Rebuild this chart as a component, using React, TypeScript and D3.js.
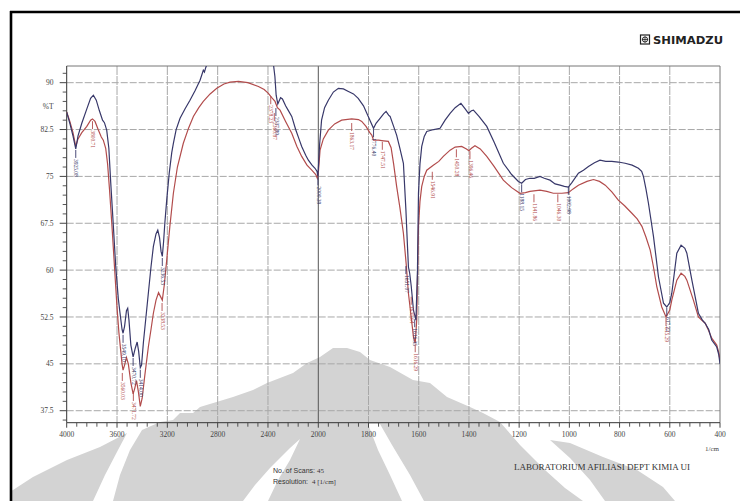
import React from "react";
import * as d3 from "d3";

// ---------- data ----------
const blueWn = [4000,3975,3950,3928,3910,3880,3840,3810,3788,3765,3740,3715,3700,3682,3665,3650,3629,3610,3590,3576,3560,3552,3540,3525,3515,3505,3490,3472,3455,3440,3428,3415,3405,3390,3370,3351,3330,3311,3290,3276,3262,3250,3240,3230,3220,3205,3185,3165,3152,3130,3099,3060,3020,2980,2940,2925,2914,2905,2895,2880,2850,2700,2500,2400,2360,2345,2335,2322,2300,2285,2260,2240,2211,2180,2150,2132,2100,2079,2050,2026,2010,2003,1995,1987,1975,1960,1940,1920,1900,1880,1860,1841,1820,1801,1790,1780,1770,1754,1740,1730,1720,1714,1700,1688,1675,1661,1651,1645,1641,1636,1630,1621,1611,1605,1601,1595,1588,1578,1568,1540,1515,1495,1475,1455,1432,1415,1402,1390,1382,1360,1329,1300,1263,1230,1203,1190,1175,1157,1140,1117,1100,1077,1057,1037,1020,1004,990,964,944,924,900,878,855,831,805,778,750,725,712,705,695,685,665,645,625,612,600,592,572,555,540,532,512,486,470,459,445,433,413,405,400];
const blueT = [85.3,83.5,81.5,79.4,81.5,83.5,85.8,87.5,88.0,87.2,85.5,84.0,83.6,82.4,79.5,74.0,67.0,60.5,55.5,53.1,50.5,49.9,51.0,53.5,53.9,52.0,48.0,46.1,47.5,48.5,47.0,44.4,44.8,48.5,52.5,56.3,60.5,63.8,65.8,66.4,65.2,63.0,62.2,64.5,67.5,71.2,75.5,78.8,80.3,82.5,84.3,85.8,87.2,88.7,90.4,91.3,92.0,91.7,92.4,93.2,95.0,97.0,96.0,95.0,93.5,91.0,88.0,86.6,87.6,87.4,86.3,85.6,84.6,82.5,80.8,79.8,78.4,77.6,76.8,76.3,75.8,75.0,80.0,84.0,86.0,87.2,88.5,89.1,89.0,88.6,88.2,87.5,86.3,84.6,83.6,82.7,83.5,84.3,85.0,85.4,84.8,84.6,83.0,81.6,79.5,77.1,69.6,64.0,60.5,59.5,57.5,53.6,52.0,60.0,72.3,77.0,79.8,81.4,82.2,82.5,82.7,84.0,85.1,86.0,86.7,85.8,85.1,85.5,85.6,84.6,83.0,80.5,77.1,75.3,74.2,73.9,74.5,74.7,74.7,75.0,74.7,74.4,73.8,73.6,73.4,73.3,74.0,75.5,76.0,76.6,77.2,77.6,77.4,77.4,77.3,77.1,76.8,76.3,75.8,75.0,73.0,70.7,65.4,58.9,54.7,54.1,54.8,56.3,62.7,64.0,63.5,62.7,58.4,53.1,52.0,51.5,50.5,48.8,47.7,46.5,45.0];

const redWn = [4000,3975,3950,3928,3910,3880,3840,3810,3795,3775,3750,3725,3709,3690,3675,3660,3640,3620,3600,3585,3570,3560,3552,3540,3525,3510,3490,3472,3460,3445,3430,3415,3400,3380,3351,3330,3311,3290,3270,3255,3240,3225,3205,3180,3152,3120,3073,3030,2993,2950,2914,2860,2807,2750,2701,2635,2560,2476,2430,2397,2370,2344,2325,2304,2260,2211,2170,2132,2090,2052,2020,2008,2000,1993,1980,1960,1935,1907,1867,1840,1827,1810,1795,1787,1780,1760,1740,1721,1710,1700,1688,1675,1661,1650,1641,1630,1621,1614,1608,1601,1595,1588,1578,1568,1542,1520,1502,1475,1455,1429,1410,1400,1390,1376,1355,1329,1300,1263,1230,1197,1175,1157,1117,1090,1064,1030,1004,985,964,930,904,880,857,830,805,780,751,730,711,695,678,665,652,632,615,600,592,572,555,540,532,506,486,470,459,445,433,413,405,400];
const redT = [85.3,83.8,82.0,79.8,81.0,82.0,83.0,84.0,84.2,83.8,82.5,81.3,80.8,79.5,77.0,73.0,67.0,60.5,54.0,50.0,47.0,45.0,44.0,44.8,46.0,45.0,42.0,40.2,41.0,42.3,40.5,38.2,39.5,43.0,47.7,50.5,53.1,55.2,56.4,55.8,55.2,57.5,61.6,67.0,72.3,76.5,80.3,82.8,84.6,86.0,87.0,88.2,89.1,89.8,90.1,90.2,90.0,89.4,88.9,88.3,87.6,87.0,86.0,85.6,83.8,81.9,79.8,78.2,76.8,76.0,75.3,74.7,75.5,79.2,81.0,82.4,83.4,84.0,84.2,84.1,83.8,83.0,82.0,81.6,80.8,80.8,80.7,80.6,79.6,77.0,73.4,70.0,65.9,61.0,56.3,52.5,49.3,48.3,52.0,67.0,71.0,73.4,75.0,76.0,76.8,77.4,78.2,79.2,79.7,79.8,79.4,79.1,79.5,79.9,79.4,78.2,76.6,74.4,73.2,72.3,72.4,72.6,72.8,72.6,72.3,72.3,72.4,73.0,73.6,74.2,74.5,74.2,73.6,72.5,71.2,70.3,69.1,68.2,67.0,65.3,63.2,60.5,57.4,54.1,52.5,53.6,55.2,58.4,59.5,59.0,58.4,55.2,52.5,51.9,51.5,50.3,49.1,48.0,46.8,45.6];

// peak labels: wavenumber, %T where the marker starts, printed text
const blueLabelWn = [3928, 3552, 3472, 3415, 3240, 2337, 2003, 1780, 1651, 1616, 1190, 1004, 612];
const blueLabelT = [79.4, 49.8, 46.1, 44.2, 62.1, 86.1, 75.0, 82.7, 60.8, 52.3, 73.9, 73.5, 54.1];
const blueLabelText = ["3925.08", "3549.10", "3470.72", "3414.00", "3236.53", "2337.89", "2000.39", "1776.40", "1651.07", "1616.35", "1188.15", "1002.98", "617.22"];
const redLabelWn = [3795, 3558, 3470, 3242, 2378, 2350, 1867, 1745, 1546, 1450, 1396, 1141, 1046, 1630, 1614, 615];
const redLabelT = [84.0, 43.7, 40.5, 54.9, 88.0, 85.3, 83.7, 80.7, 75.9, 79.5, 79.2, 72.3, 72.3, 55.9, 48.3, 52.5];
const redLabelText = ["3800.71", "3560.03", "3471.72", "3238.53", "2378.23", "2360.87", "1863.17", "1747.51", "1546.91", "1450.28", "1396.46", "1141.86", "1046.30", "1635.64", "1616.29", "615.29"];

const xMajor = [4000, 3600, 3200, 2800, 2400, 2000, 1800, 1600, 1400, 1200, 1000, 800, 600, 400];
const yMajor = [90, 82.5, 75, 67.5, 60, 52.5, 45, 37.5];
const yLabels = ["90", "82.5", "75", "67.5", "60", "52.5", "45", "37.5"];

// decorative watermark shapes (page pixels)
const WM_LEFT = [[11,491],[13,490],[33,477],[67,460],[100,447],[127,433],[118,450],[105,475],[93,501],[11,501]];
const WM_CENTER = [[113,501],[120,475],[130,450],[142,430],[160,422],[173,420],[180,413],[193,413],[200,407],[233,397],[253,390],[267,383],[293,373],[307,363],[320,357],[333,348],[347,348],[360,352],[370,360],[390,367],[413,380],[430,383],[447,397],[470,407],[483,413],[500,422],[520,445],[545,470],[565,488],[583,501]];
const WM_RIGHT = [[550,440],[570,443],[603,457],[637,470],[663,487],[675,501],[605,501],[590,480],[570,458]];
const WM_CUT1 = [[300,439],[290,448],[270,468],[255,485],[243,501],[268,501],[278,480],[290,460]];
const WM_CUT2 = [[368,424],[380,424],[392,445],[410,475],[424,501],[402,501],[390,475],[378,450]];

const L = 66.7, R = 720, T0 = 66, B = 422.7;
const BLUE = "#38386a";
const RED = "#b24c4c";

export default function App() {
  const x = d3.scaleLinear().domain([4000, 2000, 400]).range([L, 318.3, R]);
  const y = d3.scaleLinear().domain([35.58, 92.67]).range([B, T0]);

  const line = d3.line<[number, number]>().x(d => x(d[0])).y(d => y(d[1]));
  const bluePts = blueWn.map((w, i) => [w, blueT[i]] as [number, number]);
  const redPts = redWn.map((w, i) => [w, redT[i]] as [number, number]);

  const xMinor: number[] = [];
  for (let i = 0; i < xMajor.length - 1; i++) {
    const a = xMajor[i], b = xMajor[i + 1];
    for (let k = 1; k < 5; k++) xMinor.push(a + ((b - a) * k) / 5);
  }
  const yMinor: number[] = [];
  for (let v = 36; v <= 92.1; v += 1.5) {
    if (!yMajor.some(m => Math.abs(m - v) < 0.01)) yMinor.push(v);
  }

  const poly = (pts: number[][]) => pts.map(p => p.join(",")).join(" ");

  const renderLabel = (wn: number, t: number, text: string, color: string, key: string) => {
    const px = x(wn), py = y(t) + 1;
    return (
      <g key={key}>
        <line x1={px} x2={px} y1={py} y2={py + 8} stroke={color} strokeWidth={0.9} />
        <text transform={`translate(${px},${py + 9}) rotate(90)`} fontSize={5.5} fill={color}
          dominantBaseline="middle" fontFamily="Liberation Serif">{text}</text>
      </g>
    );
  };

  return (
    <svg width={740} height={501} style={{ position: "absolute", left: 0, top: 0, background: "#fff" }}
      fontFamily="Liberation Serif">
      <defs>
        <clipPath id="plotclip"><rect x={L} y={T0} width={R - L} height={B - T0} /></clipPath>
      </defs>
      <rect x={0} y={0} width={740} height={501} fill="#fff" />
      {/* watermark */}
      <g fill="#d3d3d3">
        <polygon points={poly(WM_LEFT)} />
        <polygon points={poly(WM_CENTER)} />
        <polygon points={poly(WM_RIGHT)} />
      </g>
      <g fill="#fff">
        <polygon points={poly(WM_CUT1)} />
        <polygon points={poly(WM_CUT2)} />
      </g>

      {/* frame */}
      <line x1={10} y1={12} x2={740} y2={12} stroke="#000" strokeWidth={2.6} />
      <line x1={11} y1={11} x2={11} y2={501} stroke="#000" strokeWidth={2.6} />

      {/* logo */}
      <g>
        <rect x={640.5} y={35} width={9} height={9} fill="none" stroke="#222" strokeWidth={1.2} />
        <circle cx={645} cy={39.5} r={2.6} fill="none" stroke="#222" strokeWidth={1} />
        <line x1={645} x2={645} y1={36.5} y2={42.5} stroke="#222" strokeWidth={0.8} />
        <line x1={642} x2={648} y1={39.5} y2={39.5} stroke="#222" strokeWidth={0.8} />
        <text x={653} y={43.6} fontSize={10} fontWeight="bold" fontFamily="DejaVu Sans" fill="#222"
          textLength={70} lengthAdjust="spacingAndGlyphs">SHIMADZU</text>
      </g>

      {/* grid */}
      <g>
        {yMajor.map(v => (
          <line key={"gy" + v} x1={L} x2={R} y1={y(v)} y2={y(v)} stroke="#a8a8a8" strokeWidth={1} strokeDasharray="7,2" />
        ))}
        {xMajor.filter(v => v !== 4000 && v !== 400).map(v => (
          <line key={"gx" + v} x1={x(v)} x2={x(v)} y1={T0} y2={B}
            stroke={v === 2000 ? "#555" : "#a8a8a8"} strokeWidth={1} strokeDasharray={v === 2000 ? undefined : "9,1"} />
        ))}
      </g>
      {/* plot border */}
      <line x1={L} x2={R} y1={T0} y2={T0} stroke="#777" strokeWidth={1} />
      <line x1={R} x2={R} y1={T0} y2={B} stroke="#777" strokeWidth={1} />
      <line x1={L} x2={L} y1={T0} y2={B} stroke="#333" strokeWidth={1} />
      <line x1={L} x2={R} y1={B} y2={B} stroke="#333" strokeWidth={1} />

      {/* y axis ticks */}
      {yMajor.map((v, i) => (
        <g key={"yt" + v}>
          <line x1={L - 7} x2={L} y1={y(v)} y2={y(v)} stroke="#444" strokeWidth={1} />
          <text x={53.5} y={y(v) + 2.6} fontSize={7.5} textAnchor="end" fill="#444">{yLabels[i]}</text>
        </g>
      ))}
      {yMinor.map(v => (
        <line key={"ym" + v} x1={L - 4} x2={L} y1={y(v)} y2={y(v)} stroke="#444" strokeWidth={0.9} />
      ))}
      <text x={53.5} y={108.5} fontSize={7.5} textAnchor="end" fill="#444">%T</text>

      {/* x axis ticks */}
      {xMajor.map(v => (
        <g key={"xt" + v}>
          <line x1={x(v)} x2={x(v)} y1={B} y2={B + 5} stroke="#444" strokeWidth={1} />
          <text x={x(v)} y={437} fontSize={7.5} textAnchor="middle" fill="#444">{v}</text>
        </g>
      ))}
      {xMinor.map(v => (
        <line key={"xm" + v} x1={x(v)} x2={x(v)} y1={B} y2={B + 4} stroke="#444" strokeWidth={0.9} />
      ))}
      <text x={712} y={451} fontSize={7} textAnchor="middle" fill="#444">1/cm</text>

      {/* spectra */}
      <g clipPath="url(#plotclip)">
        <path d={line(redPts) || ""} fill="none" stroke={RED} strokeWidth={1.2} />
        <path d={line(bluePts) || ""} fill="none" stroke={BLUE} strokeWidth={1.2} />
        {blueLabelWn.map((w, i) => renderLabel(w, blueLabelT[i], blueLabelText[i], BLUE, "bl" + i))}
        {redLabelWn.map((w, i) => renderLabel(w, redLabelT[i], redLabelText[i], RED, "rl" + i))}
      </g>

      {/* footer texts */}
      <text x={273} y={473} fontSize={7} fill="#333" fontFamily="Liberation Sans">
        No. of Scans: <tspan fontFamily="Liberation Serif">45</tspan>
      </text>
      <text x={273} y={484} fontSize={7} fill="#333" fontFamily="Liberation Sans">
        Resolution:<tspan x={312} fontFamily="Liberation Serif">4 [1/cm]</tspan>
      </text>
      <text x={514} y={470} fontSize={8.5} fill="#333" textLength={176} lengthAdjust="spacingAndGlyphs">
        LABORATORIUM AFILIASI DEPT KIMIA UI
      </text>
    </svg>
  );
}
